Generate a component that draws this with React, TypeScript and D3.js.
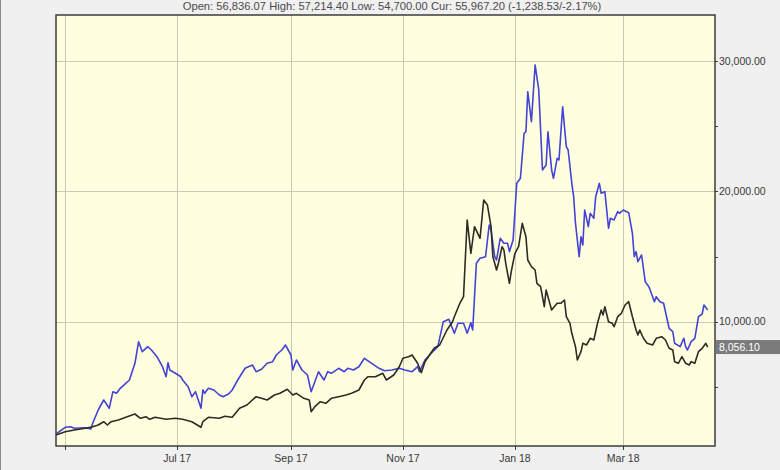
import React, { useEffect, useRef } from 'react';
import * as d3 from 'd3';

const headerText = 'Open: 56,836.07 High: 57,214.40 Low: 54,700.00 Cur: 55,967.20 (-1,238.53/-2.17%)';
const lastValue = 8056.1;

const monthTicks = ['2017-05-01', '2017-07-01', '2017-09-01', '2017-11-01', '2018-01-01', '2018-03-01'];
const monthLabels = ['', 'Jul 17', 'Sep 17', 'Nov 17', 'Jan 18', 'Mar 18'];
const valueTicks = [10000, 20000, 30000];
const minorTicks = [5000, 15000, 25000];

const blueDates = [
  '2017-04-26', '2017-05-01', '2017-05-04', '2017-05-06', '2017-05-12', '2017-05-15', '2017-05-16', '2017-05-19',
  '2017-05-22', '2017-05-25', '2017-05-27', '2017-05-29', '2017-05-31', '2017-06-03', '2017-06-05', '2017-06-08',
  '2017-06-10', '2017-06-12', '2017-06-15', '2017-06-17', '2017-06-20', '2017-06-23', '2017-06-25', '2017-06-26',
  '2017-06-27', '2017-06-30', '2017-07-03', '2017-07-04', '2017-07-07', '2017-07-09', '2017-07-11', '2017-07-14',
  '2017-07-15', '2017-07-16', '2017-07-18', '2017-07-21', '2017-07-24', '2017-07-26', '2017-07-29', '2017-07-31',
  '2017-08-03', '2017-08-07', '2017-08-11', '2017-08-13', '2017-08-16', '2017-08-19', '2017-08-22', '2017-08-24',
  '2017-08-27', '2017-08-29', '2017-09-01', '2017-09-02', '2017-09-04', '2017-09-07', '2017-09-10', '2017-09-12',
  '2017-09-14', '2017-09-16', '2017-09-19', '2017-09-21', '2017-09-23', '2017-09-27', '2017-09-30', '2017-10-02',
  '2017-10-05', '2017-10-08', '2017-10-11', '2017-10-15', '2017-10-19', '2017-10-22', '2017-10-26', '2017-10-30',
  '2017-11-02', '2017-11-06', '2017-11-09', '2017-11-10', '2017-11-13', '2017-11-16', '2017-11-20', '2017-11-23',
  '2017-11-26', '2017-11-29', '2017-12-01', '2017-12-04', '2017-12-06', '2017-12-08', '2017-12-09', '2017-12-11',
  '2017-12-13', '2017-12-16', '2017-12-18', '2017-12-19', '2017-12-21', '2017-12-22', '2017-12-24', '2017-12-26',
  '2017-12-28', '2017-12-29', '2017-12-31', '2018-01-02', '2018-01-04', '2018-01-06', '2018-01-07', '2018-01-08',
  '2018-01-10', '2018-01-12', '2018-01-14', '2018-01-16', '2018-01-18', '2018-01-19', '2018-01-21', '2018-01-22',
  '2018-01-24', '2018-01-25', '2018-01-27', '2018-01-29', '2018-01-30', '2018-02-01', '2018-02-02', '2018-02-03',
  '2018-02-05', '2018-02-06', '2018-02-07', '2018-02-08', '2018-02-10', '2018-02-11', '2018-02-13', '2018-02-14',
  '2018-02-16', '2018-02-17', '2018-02-19', '2018-02-21', '2018-02-22', '2018-02-24', '2018-02-26', '2018-02-27',
  '2018-03-01', '2018-03-04', '2018-03-06', '2018-03-07', '2018-03-08', '2018-03-09', '2018-03-11', '2018-03-13',
  '2018-03-15', '2018-03-18', '2018-03-19', '2018-03-21', '2018-03-23', '2018-03-26', '2018-03-28', '2018-03-29',
  '2018-04-01', '2018-04-03', '2018-04-04', '2018-04-05', '2018-04-07', '2018-04-09', '2018-04-11', '2018-04-13',
  '2018-04-14', '2018-04-16',
];
const blueValues = [
  1385, 1900, 1945, 1822, 1868, 1768, 2206, 3226,
  3993, 3357, 4630, 4507, 4891, 5275, 5528, 6809,
  8466, 7699, 8083, 7829, 7315, 6548, 5781, 6855,
  6295, 6042, 5781, 5528, 5014, 4246, 4630, 3357,
  4760, 4507, 4891, 4760, 4377, 4246, 4454, 4760,
  5528, 6425, 6678, 6164, 6349, 6809, 6932, 7446,
  7829, 8213, 7446, 6295, 7062, 6295, 5911, 4630,
  5397, 6164, 5528, 6164, 6042, 6425, 6164, 6425,
  6295, 6548, 7193, 6809, 6425, 6241, 6295, 6425,
  6295, 6164, 6548, 6164, 7062, 7522, 8083, 10000,
  10185, 9110, 9878, 9878, 9110, 9924, 9364, 14481,
  14864, 14987, 17419, 17036, 14987, 14734, 16399, 16015,
  16015, 15371, 16268, 20618, 21002, 24455, 24577, 27646,
  25344, 29694, 27776, 21639, 22022, 24577, 21639, 21002,
  22536, 22406, 26495, 23426, 23173, 20618, 19590, 17550,
  14987, 16522, 15885, 18570, 17289, 18317, 17933, 19590,
  20618, 19851, 19974, 17166, 17933, 17803, 18440, 18317,
  18570, 18363, 16783, 14987, 15371, 14604, 15118, 13069,
  12686, 11535, 11918, 11535, 11412, 9494, 9233, 8343,
  8083, 8727, 8083, 7829, 8466, 8727, 10384, 10591,
  11282, 10898,
];

const blackDates = [
  '2017-04-26', '2017-05-01', '2017-05-06', '2017-05-12', '2017-05-16', '2017-05-19', '2017-05-22', '2017-05-24',
  '2017-05-26', '2017-05-30', '2017-06-03', '2017-06-08', '2017-06-11', '2017-06-14', '2017-06-16', '2017-06-19',
  '2017-06-25', '2017-06-30', '2017-07-04', '2017-07-09', '2017-07-14', '2017-07-15', '2017-07-18', '2017-07-24',
  '2017-07-27', '2017-07-31', '2017-08-04', '2017-08-08', '2017-08-13', '2017-08-16', '2017-08-19', '2017-08-23',
  '2017-08-26', '2017-08-30', '2017-09-02', '2017-09-04', '2017-09-08', '2017-09-11', '2017-09-12', '2017-09-14',
  '2017-09-17', '2017-09-20', '2017-09-23', '2017-09-27', '2017-10-01', '2017-10-04', '2017-10-08', '2017-10-11',
  '2017-10-13', '2017-10-17', '2017-10-21', '2017-10-23', '2017-10-27', '2017-10-30', '2017-11-01', '2017-11-04',
  '2017-11-06', '2017-11-09', '2017-11-11', '2017-11-13', '2017-11-18', '2017-11-21', '2017-11-25', '2017-11-28',
  '2017-11-29', '2017-12-02', '2017-12-04', '2017-12-06', '2017-12-08', '2017-12-09', '2017-12-10', '2017-12-13',
  '2017-12-15', '2017-12-17', '2017-12-19', '2017-12-20', '2017-12-22', '2017-12-23', '2017-12-25', '2017-12-26',
  '2017-12-27', '2017-12-29', '2017-12-30', '2018-01-01', '2018-01-03', '2018-01-05', '2018-01-07', '2018-01-08',
  '2018-01-10', '2018-01-12', '2018-01-13', '2018-01-15', '2018-01-17', '2018-01-18', '2018-01-19', '2018-01-21',
  '2018-01-24', '2018-01-26', '2018-01-28', '2018-01-29', '2018-01-31', '2018-02-01', '2018-02-03', '2018-02-04',
  '2018-02-06', '2018-02-07', '2018-02-09', '2018-02-11', '2018-02-13', '2018-02-15', '2018-02-17', '2018-02-18',
  '2018-02-19', '2018-02-21', '2018-02-23', '2018-02-24', '2018-02-26', '2018-02-28', '2018-03-02', '2018-03-04',
  '2018-03-06', '2018-03-08', '2018-03-09', '2018-03-10', '2018-03-12', '2018-03-14', '2018-03-17', '2018-03-19',
  '2018-03-22', '2018-03-24', '2018-03-26', '2018-03-28', '2018-03-29', '2018-03-31', '2018-04-02', '2018-04-04',
  '2018-04-06', '2018-04-07', '2018-04-09', '2018-04-11', '2018-04-13', '2018-04-15', '2018-04-16',
];
const blackValues = [
  1308, 1561, 1692, 1822, 1945, 2075, 2328, 2075,
  2328, 2459, 2666, 2919, 2589, 2712, 2513, 2666,
  2513, 2589, 2513, 2328, 1899, 2328, 2666, 2589,
  2743, 2666, 3357, 3610, 4246, 4124, 3993, 4377,
  4507, 4814, 4377, 4507, 4124, 3993, 3096, 3479,
  3863, 3740, 4124, 4246, 4377, 4507, 4760, 5528,
  5781, 5781, 6042, 5528, 5911, 6548, 7193, 7315,
  7446, 6809, 6088, 6932, 7960, 8213, 9364, 10000,
  10384, 11412, 11918, 17803, 15248, 16268, 17289, 16399,
  19337, 18954, 17289, 14987, 13967, 14481, 15754, 15501,
  14481, 12946, 13836, 15248, 15754, 17550, 16522, 14734,
  14220, 13967, 12946, 12686, 11151, 12432, 11918, 10898,
  11412, 11412, 11665, 10384, 9878, 9110, 8083, 7062,
  7699, 8343, 8213, 8727, 8597, 9878, 10898, 10514,
  11151, 10000, 9878, 9617, 10384, 10645, 11282, 11535,
  10384, 9364, 8980, 9364, 8727, 8343, 8213, 8727,
  8850, 8597, 7960, 7829, 6932, 6809, 7315, 6809,
  6678, 6932, 6809, 7699, 7960, 8343, 8056,
];

const W = 780;
const H = 470;
const plot = { left: 56, right: 715, top: 15, bottom: 446 };

const App: React.FC = () => {
  const ref = useRef<SVGSVGElement>(null);

  useEffect(() => {
    document.body.style.margin = '0';
    const svg = d3.select(ref.current);
    svg.selectAll('*').remove();

    const parse = d3.timeParse('%Y-%m-%d');
    const x = d3
      .scaleTime()
      .domain([parse('2017-04-26')!, parse('2018-04-20')!])
      .range([plot.left, plot.right]);
    const y = d3.scaleLinear().domain([10000, 30000]).range([321.7, 61]);

    const font = '"Liberation Sans", Arial, sans-serif';

    // fondo
    svg.append('rect').attr('width', W).attr('height', H).attr('fill', '#f0f0f0');
    svg.append('line').attr('x1', 0.5).attr('x2', 0.5).attr('y1', 0).attr('y2', H)
      .attr('stroke', '#8a8a8a').attr('stroke-width', 1);

    svg.append('text')
      .attr('x', W / 2 + 2).attr('y', 10)
      .attr('text-anchor', 'middle')
      .attr('font-family', font).attr('font-size', 11.2)
      .attr('fill', '#4a4a4a')
      .text(headerText);

    svg.append('rect')
      .attr('x', plot.left).attr('y', plot.top)
      .attr('width', plot.right - plot.left).attr('height', plot.bottom - plot.top)
      .attr('fill', '#ffffe0');

    const ticks = monthTicks.map(d => parse(d)!);

    // griglia
    svg.append('g').selectAll('line').data(ticks).enter().append('line')
      .attr('x1', d => Math.round(x(d)) + 0.5).attr('x2', d => Math.round(x(d)) + 0.5)
      .attr('y1', plot.top).attr('y2', plot.bottom)
      .attr('stroke', '#c9c9b8').attr('stroke-width', 1);
    svg.append('g').selectAll('line').data(valueTicks).enter().append('line')
      .attr('x1', plot.left).attr('x2', plot.right)
      .attr('y1', d => Math.round(y(d)) + 0.5).attr('y2', d => Math.round(y(d)) + 0.5)
      .attr('stroke', '#c9c9b8').attr('stroke-width', 1);

    // serie
    svg.append('clipPath').attr('id', 'plotclip').append('rect')
      .attr('x', plot.left).attr('y', plot.top)
      .attr('width', plot.right - plot.left).attr('height', plot.bottom - plot.top);

    const line = d3.line<[Date, number]>().x(d => x(d[0])).y(d => y(d[1]));
    const blueData = blueDates.map((d, i) => [parse(d)!, blueValues[i]] as [Date, number]);
    const blackData = blackDates.map((d, i) => [parse(d)!, blackValues[i]] as [Date, number]);

    const g = svg.append('g').attr('clip-path', 'url(#plotclip)');
    g.append('path').datum(blueData).attr('d', line)
      .attr('fill', 'none').attr('stroke', '#4343d6').attr('stroke-width', 1.6)
      .attr('stroke-linejoin', 'round');
    g.append('path').datum(blackData).attr('d', line)
      .attr('fill', 'none').attr('stroke', '#2c2c24').attr('stroke-width', 1.6)
      .attr('stroke-linejoin', 'round');

    // bordo
    svg.append('rect')
      .attr('x', plot.left).attr('y', plot.top)
      .attr('width', plot.right - plot.left).attr('height', plot.bottom - plot.top)
      .attr('fill', 'none').attr('stroke', '#3c3c3c').attr('stroke-width', 1.5);

    // asse X
    svg.append('g').selectAll('line').data(ticks).enter().append('line')
      .attr('x1', d => Math.round(x(d)) + 0.5).attr('x2', d => Math.round(x(d)) + 0.5)
      .attr('y1', plot.bottom).attr('y2', plot.bottom + 4)
      .attr('stroke', '#3c3c3c');
    svg.append('g').selectAll('text').data(ticks).enter().append('text')
      .attr('x', d => x(d)).attr('y', plot.bottom + 16)
      .attr('text-anchor', 'middle')
      .attr('font-family', font).attr('font-size', 10.5).attr('fill', '#383838')
      .text((_, i) => monthLabels[i]);

    // asse Y (destra)
    svg.append('g').selectAll('line').data([...valueTicks, ...minorTicks]).enter().append('line')
      .attr('x1', plot.right).attr('x2', plot.right + 3)
      .attr('y1', d => Math.round(y(d)) + 0.5).attr('y2', d => Math.round(y(d)) + 0.5)
      .attr('stroke', '#3c3c3c');
    svg.append('g').selectAll('text').data(valueTicks).enter().append('text')
      .attr('x', plot.right + 4).attr('y', d => y(d)).attr('dy', '0.35em')
      .attr('font-family', font).attr('font-size', 10.5).attr('fill', '#383838')
      .text(d => d3.format(',.2f')(d));

    // ultimo valore
    const yl = y(lastValue);
    svg.append('rect')
      .attr('x', plot.right + 1).attr('y', yl - 7)
      .attr('width', W - plot.right - 1).attr('height', 14)
      .attr('fill', '#7b7b7b');
    svg.append('text')
      .attr('x', plot.right + 4).attr('y', yl).attr('dy', '0.35em')
      .attr('font-family', font).attr('font-size', 10.5).attr('fill', '#fff')
      .text(d3.format(',.2f')(lastValue));
  }, []);

  return (
    <div style={{ position: 'absolute', left: 0, top: 0 }}>
      <svg ref={ref} width={W} height={H} style={{ display: 'block' }} />
    </div>
  );
};

export default App;
